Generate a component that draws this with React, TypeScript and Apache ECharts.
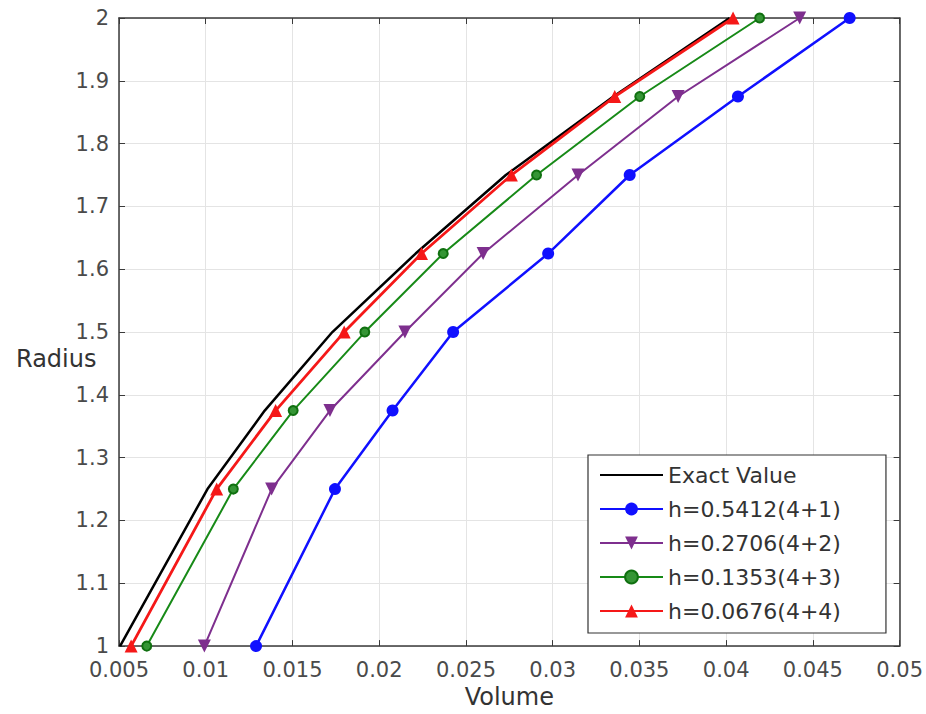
import React, { useEffect, useRef } from "react";
import * as echarts from "echarts";

const radius = [1, 1.25, 1.375, 1.5, 1.625, 1.75, 1.875, 2];
const exactVolume = [0.00506, 0.0101, 0.0134, 0.0173, 0.0221, 0.0273, 0.0335, 0.0402];
const volH1 = [0.0129, 0.01745, 0.02077, 0.02426, 0.02974, 0.03444, 0.04068, 0.04712];
const volH2 = [0.00992, 0.0138, 0.01716, 0.02148, 0.02599, 0.03146, 0.03723, 0.04424];
const volH3 = [0.0066, 0.01159, 0.01504, 0.01917, 0.02369, 0.02907, 0.03502, 0.04193];
const volH4 = [0.0057, 0.01063, 0.01403, 0.01798, 0.02244, 0.02762, 0.03358, 0.0404];
const seriesNames = [
  "Exact Value",
  "h=0.5412(4+1)",
  "h=0.2706(4+2)",
  "h=0.1353(4+3)",
  "h=0.0676(4+4)",
];
const xTicks = { min: 0.005, max: 0.05, step: 0.005 };
const yTicks = { min: 1, max: 2, step: 0.1 };

const FONT = "DejaVu Sans";

export default function App() {
  const ref = useRef<HTMLDivElement>(null);
  useEffect(() => {
    if (!ref.current) return;
    const chart = echarts.init(ref.current, null, { renderer: "svg" });
    const pairs = (xs: number[]) => xs.map((x, i) => [x, radius[i]]);
    const axisColor = "#3a3a3a";
    const common = {
      type: "value" as const,
      axisLine: { show: true, onZero: false, lineStyle: { color: axisColor, width: 1.5 } },
      axisTick: { show: true, inside: true, length: 6, lineStyle: { color: axisColor, width: 1 } },
    };
    const option: any = {
      animation: false,
      backgroundColor: "#ffffff",
      grid: { left: 119, right: 26, top: 18, bottom: 62, containLabel: false },
      xAxis: [
        {
          ...common,
          position: "bottom",
          min: xTicks.min,
          max: xTicks.max,
          interval: xTicks.step,
          splitLine: { show: true, lineStyle: { color: "#e4e4e4", width: 1 } },
          axisLabel: {
            fontSize: 21,
            fontFamily: FONT,
            color: "#4a4a4a",
            margin: 13,
            formatter: (v: number) => String(+v.toFixed(3)),
          },
          name: "Volume",
          nameLocation: "middle",
          nameGap: 37,
          nameTextStyle: { fontSize: 24, fontFamily: FONT, color: "#333" },
        },
        {
          ...common,
          position: "top",
          min: xTicks.min,
          max: xTicks.max,
          interval: xTicks.step,
          splitLine: { show: false },
          axisLabel: { show: false },
        },
      ],
      yAxis: [
        {
          ...common,
          position: "left",
          min: yTicks.min,
          max: yTicks.max,
          interval: yTicks.step,
          splitLine: { show: true, lineStyle: { color: "#e4e4e4", width: 1 } },
          axisLabel: {
            fontSize: 21,
            fontFamily: FONT,
            color: "#4a4a4a",
            margin: 10,
            formatter: (v: number) => String(+v.toFixed(1)),
          },
        },
        {
          ...common,
          position: "right",
          min: yTicks.min,
          max: yTicks.max,
          interval: yTicks.step,
          splitLine: { show: false },
          axisLabel: { show: false },
        },
      ],
      legend: {
        orient: "vertical",
        left: 588,
        top: 455,
        padding: [8, 45, 10, 11],
        itemGap: 10,
        itemWidth: 63,
        itemHeight: 16,
        borderColor: "#333",
        borderWidth: 1.2,
        backgroundColor: "#fff",
        textStyle: { fontSize: 22, fontFamily: FONT, color: "#333", lineHeight: 24 },
        data: [
          { name: seriesNames[0], itemStyle: { opacity: 0 } },
          seriesNames[1],
          seriesNames[2],
          seriesNames[3],
          seriesNames[4],
        ],
      },
      graphic: [
        {
          type: "text",
          left: 16,
          top: 347,
          style: { text: "Radius", fontSize: 24, fontFamily: FONT, fill: "#333" },
        },
      ],
      series: [
        {
          name: seriesNames[0],
          type: "line",
          data: pairs(exactVolume),
          symbol: "none",
          lineStyle: { color: "#000", width: 2.5 },
          itemStyle: { color: "#000" },
        },
        {
          name: seriesNames[1],
          type: "line",
          data: pairs(volH1),
          symbol: "circle",
          symbolSize: 12,
          lineStyle: { color: "#1010ff", width: 2.5 },
          itemStyle: { color: "#1010ff" },
        },
        {
          name: seriesNames[2],
          type: "line",
          data: pairs(volH2),
          symbol: "path://M0,0L2,0L1,1.732Z",
          symbolSize: 13,
          lineStyle: { color: "#7e2f8e", width: 2 },
          itemStyle: { color: "#7e2f8e" },
        },
        {
          name: seriesNames[3],
          type: "line",
          data: pairs(volH3),
          symbol: "circle",
          symbolSize: 9,
          lineStyle: { color: "#178a17", width: 2 },
          itemStyle: { color: "#359535", borderColor: "#107010", borderWidth: 2 },
        },
        {
          name: seriesNames[4],
          type: "line",
          data: pairs(volH4),
          symbol: "triangle",
          symbolSize: 13,
          lineStyle: { color: "#f51818", width: 2.8 },
          itemStyle: { color: "#f51818" },
        },
      ],
    };
    chart.setOption(option);
    return () => chart.dispose();
  }, []);
  return (
    <div
      ref={ref}
      style={{ position: "fixed", left: 0, top: 0, width: 926, height: 714, background: "#fff" }}
    />
  );
}
